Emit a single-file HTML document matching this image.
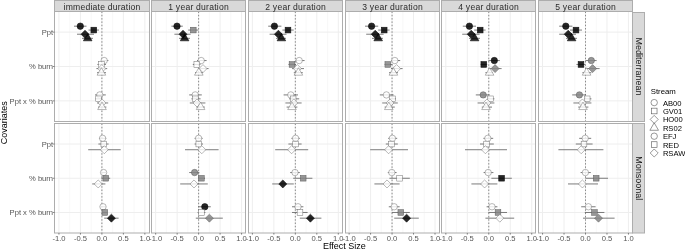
<!DOCTYPE html><html><head><meta charset="utf-8"><style>html,body{margin:0;padding:0;background:#fff;}svg{display:block;will-change:transform;}text{font-family:"Liberation Sans",sans-serif;}</style></head><body>
<svg width="685" height="250" viewBox="0 0 685 250">
<rect width="685" height="250" fill="#fff"/>
<g>
<rect x="54.50" y="0.5" width="95.00" height="11" fill="#d9d9d9" stroke="#adadad" stroke-width="1"/>
<line x1="69.69" y1="11.50" x2="69.69" y2="121.50" stroke="#f6f6f6" stroke-width="0.8"/>
<line x1="91.16" y1="11.50" x2="91.16" y2="121.50" stroke="#f6f6f6" stroke-width="0.8"/>
<line x1="112.64" y1="11.50" x2="112.64" y2="121.50" stroke="#f6f6f6" stroke-width="0.8"/>
<line x1="134.11" y1="11.50" x2="134.11" y2="121.50" stroke="#f6f6f6" stroke-width="0.8"/>
<line x1="58.95" y1="11.50" x2="58.95" y2="121.50" stroke="#eeeeee" stroke-width="1"/>
<line x1="80.43" y1="11.50" x2="80.43" y2="121.50" stroke="#eeeeee" stroke-width="1"/>
<line x1="101.90" y1="11.50" x2="101.90" y2="121.50" stroke="#eeeeee" stroke-width="1"/>
<line x1="123.38" y1="11.50" x2="123.38" y2="121.50" stroke="#eeeeee" stroke-width="1"/>
<line x1="144.85" y1="11.50" x2="144.85" y2="121.50" stroke="#eeeeee" stroke-width="1"/>
<line x1="54.50" y1="32.12" x2="149.50" y2="32.12" stroke="#eeeeee" stroke-width="1"/>
<line x1="54.50" y1="66.50" x2="149.50" y2="66.50" stroke="#eeeeee" stroke-width="1"/>
<line x1="54.50" y1="100.88" x2="149.50" y2="100.88" stroke="#eeeeee" stroke-width="1"/>
<line x1="101.90" y1="11.50" x2="101.90" y2="121.50" stroke="#8a8a8a" stroke-width="1" stroke-dasharray="1.5 1.8"/>
<line x1="74.00" y1="26.18" x2="86.50" y2="26.18" stroke="#5a5a5a" stroke-width="0.8"/>
<line x1="88.50" y1="30.07" x2="99.00" y2="30.07" stroke="#5a5a5a" stroke-width="0.8"/>
<line x1="77.00" y1="34.23" x2="94.00" y2="34.23" stroke="#5a5a5a" stroke-width="0.8"/>
<line x1="82.00" y1="38.33" x2="93.00" y2="38.33" stroke="#5a5a5a" stroke-width="0.8"/>
<line x1="101.20" y1="60.55" x2="108.40" y2="60.55" stroke="#5a5a5a" stroke-width="0.8"/>
<line x1="97.40" y1="64.45" x2="106.00" y2="64.45" stroke="#5a5a5a" stroke-width="0.8"/>
<line x1="96.40" y1="68.60" x2="107.20" y2="68.60" stroke="#5a5a5a" stroke-width="0.8"/>
<line x1="97.00" y1="72.70" x2="106.00" y2="72.70" stroke="#5a5a5a" stroke-width="0.8"/>
<line x1="95.00" y1="94.92" x2="105.80" y2="94.92" stroke="#5a5a5a" stroke-width="0.8"/>
<line x1="95.60" y1="98.83" x2="102.00" y2="98.83" stroke="#5a5a5a" stroke-width="0.8"/>
<line x1="97.00" y1="102.97" x2="108.20" y2="102.97" stroke="#5a5a5a" stroke-width="0.8"/>
<line x1="98.00" y1="107.08" x2="106.40" y2="107.08" stroke="#5a5a5a" stroke-width="0.8"/>
<circle cx="80.30" cy="26.18" r="3.20" fill="#000000" fill-opacity="0.85" stroke="#111" stroke-width="0.6"/>
<rect x="90.96" y="27.24" width="5.67" height="5.67" fill="#000000" fill-opacity="0.85" stroke="#111" stroke-width="0.6"/>
<path d="M85.00 30.21L89.01 34.23L85.00 38.24L80.99 34.23Z" fill="#000000" fill-opacity="0.85" stroke="#111" stroke-width="0.6"/>
<path d="M87.70 33.35L92.01 40.81L83.39 40.81Z" fill="#000000" fill-opacity="0.85" stroke="#111" stroke-width="0.6"/>
<circle cx="104.20" cy="60.55" r="3.20" fill="#ffffff" fill-opacity="0.8" stroke="#707070" stroke-width="0.5"/>
<rect x="98.56" y="61.61" width="5.67" height="5.67" fill="#ffffff" fill-opacity="0.8" stroke="#707070" stroke-width="0.5"/>
<path d="M101.80 64.59L105.81 68.60L101.80 72.61L97.79 68.60Z" fill="#ffffff" fill-opacity="0.8" stroke="#707070" stroke-width="0.5"/>
<path d="M101.40 67.72L105.71 75.19L97.09 75.19Z" fill="#ffffff" fill-opacity="0.8" stroke="#707070" stroke-width="0.5"/>
<circle cx="99.80" cy="94.92" r="3.20" fill="#ffffff" fill-opacity="0.8" stroke="#707070" stroke-width="0.5"/>
<rect x="95.76" y="95.99" width="5.67" height="5.67" fill="#ffffff" fill-opacity="0.8" stroke="#707070" stroke-width="0.5"/>
<path d="M102.00 98.96L106.01 102.97L102.00 106.99L97.99 102.97Z" fill="#ffffff" fill-opacity="0.8" stroke="#707070" stroke-width="0.5"/>
<path d="M102.00 102.10L106.31 109.56L97.69 109.56Z" fill="#ffffff" fill-opacity="0.8" stroke="#707070" stroke-width="0.5"/>
<rect x="54.50" y="11.50" width="95.00" height="110.00" fill="none" stroke="#adadad" stroke-width="1"/>
<line x1="69.69" y1="123.50" x2="69.69" y2="233.00" stroke="#f6f6f6" stroke-width="0.8"/>
<line x1="91.16" y1="123.50" x2="91.16" y2="233.00" stroke="#f6f6f6" stroke-width="0.8"/>
<line x1="112.64" y1="123.50" x2="112.64" y2="233.00" stroke="#f6f6f6" stroke-width="0.8"/>
<line x1="134.11" y1="123.50" x2="134.11" y2="233.00" stroke="#f6f6f6" stroke-width="0.8"/>
<line x1="58.95" y1="123.50" x2="58.95" y2="233.00" stroke="#eeeeee" stroke-width="1"/>
<line x1="80.43" y1="123.50" x2="80.43" y2="233.00" stroke="#eeeeee" stroke-width="1"/>
<line x1="101.90" y1="123.50" x2="101.90" y2="233.00" stroke="#eeeeee" stroke-width="1"/>
<line x1="123.38" y1="123.50" x2="123.38" y2="233.00" stroke="#eeeeee" stroke-width="1"/>
<line x1="144.85" y1="123.50" x2="144.85" y2="233.00" stroke="#eeeeee" stroke-width="1"/>
<line x1="54.50" y1="144.03" x2="149.50" y2="144.03" stroke="#eeeeee" stroke-width="1"/>
<line x1="54.50" y1="178.25" x2="149.50" y2="178.25" stroke="#eeeeee" stroke-width="1"/>
<line x1="54.50" y1="212.47" x2="149.50" y2="212.47" stroke="#eeeeee" stroke-width="1"/>
<line x1="101.90" y1="123.50" x2="101.90" y2="233.00" stroke="#8a8a8a" stroke-width="1" stroke-dasharray="1.5 1.8"/>
<line x1="99.00" y1="138.33" x2="106.20" y2="138.33" stroke="#5a5a5a" stroke-width="0.8"/>
<line x1="98.40" y1="144.03" x2="108.60" y2="144.03" stroke="#5a5a5a" stroke-width="0.8"/>
<line x1="88.20" y1="149.73" x2="120.70" y2="149.73" stroke="#5a5a5a" stroke-width="0.8"/>
<line x1="101.00" y1="172.55" x2="106.00" y2="172.55" stroke="#5a5a5a" stroke-width="0.8"/>
<line x1="101.20" y1="178.25" x2="110.20" y2="178.25" stroke="#5a5a5a" stroke-width="0.8"/>
<line x1="92.20" y1="183.95" x2="105.40" y2="183.95" stroke="#5a5a5a" stroke-width="0.8"/>
<line x1="100.60" y1="206.77" x2="106.00" y2="206.77" stroke="#5a5a5a" stroke-width="0.8"/>
<line x1="102.40" y1="212.47" x2="107.20" y2="212.47" stroke="#5a5a5a" stroke-width="0.8"/>
<line x1="104.20" y1="218.17" x2="118.60" y2="218.17" stroke="#5a5a5a" stroke-width="0.8"/>
<circle cx="102.60" cy="138.33" r="3.20" fill="#ffffff" fill-opacity="0.8" stroke="#707070" stroke-width="0.5"/>
<rect x="100.96" y="141.20" width="5.67" height="5.67" fill="#ffffff" fill-opacity="0.8" stroke="#707070" stroke-width="0.5"/>
<path d="M104.30 145.72L108.31 149.73L104.30 153.74L100.29 149.73Z" fill="#ffffff" fill-opacity="0.8" stroke="#707070" stroke-width="0.5"/>
<circle cx="103.60" cy="172.55" r="3.20" fill="#ffffff" fill-opacity="0.8" stroke="#707070" stroke-width="0.5"/>
<rect x="102.96" y="175.41" width="5.67" height="5.67" fill="#858585" fill-opacity="0.85" stroke="#5a5a5a" stroke-width="0.5"/>
<path d="M98.20 179.94L102.21 183.95L98.20 187.96L94.19 183.95Z" fill="#ffffff" fill-opacity="0.8" stroke="#707070" stroke-width="0.5"/>
<circle cx="103.00" cy="206.77" r="3.20" fill="#ffffff" fill-opacity="0.8" stroke="#707070" stroke-width="0.5"/>
<rect x="101.96" y="209.63" width="5.67" height="5.67" fill="#858585" fill-opacity="0.85" stroke="#5a5a5a" stroke-width="0.5"/>
<path d="M111.40 214.16L115.41 218.17L111.40 222.18L107.39 218.17Z" fill="#000000" fill-opacity="0.85" stroke="#111" stroke-width="0.6"/>
<rect x="54.50" y="123.50" width="95.00" height="109.50" fill="none" stroke="#adadad" stroke-width="1"/>
<text x="102.10" y="9.6" font-size="8.6" letter-spacing="0.22" fill="#2a2a2a" text-anchor="middle">immediate duration</text>
<line x1="58.95" y1="233.00" x2="58.95" y2="234.60" stroke="#555" stroke-width="0.7"/>
<text x="58.95" y="240.6" font-size="7.6" fill="#555" text-anchor="middle">-1.0</text>
<line x1="80.43" y1="233.00" x2="80.43" y2="234.60" stroke="#555" stroke-width="0.7"/>
<text x="80.43" y="240.6" font-size="7.6" fill="#555" text-anchor="middle">-0.5</text>
<line x1="101.90" y1="233.00" x2="101.90" y2="234.60" stroke="#555" stroke-width="0.7"/>
<text x="101.90" y="240.6" font-size="7.6" fill="#555" text-anchor="middle">0.0</text>
<line x1="123.38" y1="233.00" x2="123.38" y2="234.60" stroke="#555" stroke-width="0.7"/>
<text x="123.38" y="240.6" font-size="7.6" fill="#555" text-anchor="middle">0.5</text>
<line x1="144.85" y1="233.00" x2="144.85" y2="234.60" stroke="#555" stroke-width="0.7"/>
<text x="144.85" y="240.6" font-size="7.6" fill="#555" text-anchor="middle">1.0</text>
<rect x="151.50" y="0.5" width="94.00" height="11" fill="#d9d9d9" stroke="#adadad" stroke-width="1"/>
<line x1="166.41" y1="11.50" x2="166.41" y2="121.50" stroke="#f6f6f6" stroke-width="0.8"/>
<line x1="187.88" y1="11.50" x2="187.88" y2="121.50" stroke="#f6f6f6" stroke-width="0.8"/>
<line x1="209.36" y1="11.50" x2="209.36" y2="121.50" stroke="#f6f6f6" stroke-width="0.8"/>
<line x1="230.83" y1="11.50" x2="230.83" y2="121.50" stroke="#f6f6f6" stroke-width="0.8"/>
<line x1="155.67" y1="11.50" x2="155.67" y2="121.50" stroke="#eeeeee" stroke-width="1"/>
<line x1="177.15" y1="11.50" x2="177.15" y2="121.50" stroke="#eeeeee" stroke-width="1"/>
<line x1="198.62" y1="11.50" x2="198.62" y2="121.50" stroke="#eeeeee" stroke-width="1"/>
<line x1="220.09" y1="11.50" x2="220.09" y2="121.50" stroke="#eeeeee" stroke-width="1"/>
<line x1="241.57" y1="11.50" x2="241.57" y2="121.50" stroke="#eeeeee" stroke-width="1"/>
<line x1="151.50" y1="32.12" x2="245.50" y2="32.12" stroke="#eeeeee" stroke-width="1"/>
<line x1="151.50" y1="66.50" x2="245.50" y2="66.50" stroke="#eeeeee" stroke-width="1"/>
<line x1="151.50" y1="100.88" x2="245.50" y2="100.88" stroke="#eeeeee" stroke-width="1"/>
<line x1="198.62" y1="11.50" x2="198.62" y2="121.50" stroke="#8a8a8a" stroke-width="1" stroke-dasharray="1.5 1.8"/>
<line x1="171.40" y1="26.18" x2="182.80" y2="26.18" stroke="#5a5a5a" stroke-width="0.8"/>
<line x1="188.20" y1="30.07" x2="198.40" y2="30.07" stroke="#5a5a5a" stroke-width="0.8"/>
<line x1="174.40" y1="34.23" x2="190.60" y2="34.23" stroke="#5a5a5a" stroke-width="0.8"/>
<line x1="179.00" y1="38.33" x2="190.00" y2="38.33" stroke="#5a5a5a" stroke-width="0.8"/>
<line x1="197.00" y1="60.55" x2="206.60" y2="60.55" stroke="#5a5a5a" stroke-width="0.8"/>
<line x1="192.80" y1="64.45" x2="200.50" y2="64.45" stroke="#5a5a5a" stroke-width="0.8"/>
<line x1="198.00" y1="68.60" x2="208.60" y2="68.60" stroke="#5a5a5a" stroke-width="0.8"/>
<line x1="195.00" y1="72.70" x2="203.00" y2="72.70" stroke="#5a5a5a" stroke-width="0.8"/>
<line x1="189.20" y1="94.92" x2="201.80" y2="94.92" stroke="#5a5a5a" stroke-width="0.8"/>
<line x1="191.40" y1="98.83" x2="200.60" y2="98.83" stroke="#5a5a5a" stroke-width="0.8"/>
<line x1="189.80" y1="102.97" x2="205.40" y2="102.97" stroke="#5a5a5a" stroke-width="0.8"/>
<line x1="196.40" y1="107.08" x2="204.80" y2="107.08" stroke="#5a5a5a" stroke-width="0.8"/>
<circle cx="177.00" cy="26.18" r="3.20" fill="#000000" fill-opacity="0.85" stroke="#111" stroke-width="0.6"/>
<rect x="190.46" y="27.24" width="5.67" height="5.67" fill="#858585" fill-opacity="0.85" stroke="#5a5a5a" stroke-width="0.5"/>
<path d="M183.00 30.21L187.01 34.23L183.00 38.24L178.99 34.23Z" fill="#000000" fill-opacity="0.85" stroke="#111" stroke-width="0.6"/>
<path d="M184.60 33.35L188.91 40.81L180.29 40.81Z" fill="#000000" fill-opacity="0.85" stroke="#111" stroke-width="0.6"/>
<circle cx="201.20" cy="60.55" r="3.20" fill="#ffffff" fill-opacity="0.8" stroke="#707070" stroke-width="0.5"/>
<rect x="193.96" y="61.61" width="5.67" height="5.67" fill="#ffffff" fill-opacity="0.8" stroke="#707070" stroke-width="0.5"/>
<path d="M203.00 64.59L207.01 68.60L203.00 72.61L198.99 68.60Z" fill="#ffffff" fill-opacity="0.8" stroke="#707070" stroke-width="0.5"/>
<path d="M198.80 67.72L203.11 75.19L194.49 75.19Z" fill="#ffffff" fill-opacity="0.8" stroke="#707070" stroke-width="0.5"/>
<circle cx="195.20" cy="94.92" r="3.20" fill="#ffffff" fill-opacity="0.8" stroke="#707070" stroke-width="0.5"/>
<rect x="192.56" y="95.99" width="5.67" height="5.67" fill="#ffffff" fill-opacity="0.8" stroke="#707070" stroke-width="0.5"/>
<path d="M197.00 98.96L201.01 102.97L197.00 106.99L192.99 102.97Z" fill="#ffffff" fill-opacity="0.8" stroke="#707070" stroke-width="0.5"/>
<path d="M200.60 102.10L204.91 109.56L196.29 109.56Z" fill="#ffffff" fill-opacity="0.8" stroke="#707070" stroke-width="0.5"/>
<rect x="151.50" y="11.50" width="94.00" height="110.00" fill="none" stroke="#adadad" stroke-width="1"/>
<line x1="166.41" y1="123.50" x2="166.41" y2="233.00" stroke="#f6f6f6" stroke-width="0.8"/>
<line x1="187.88" y1="123.50" x2="187.88" y2="233.00" stroke="#f6f6f6" stroke-width="0.8"/>
<line x1="209.36" y1="123.50" x2="209.36" y2="233.00" stroke="#f6f6f6" stroke-width="0.8"/>
<line x1="230.83" y1="123.50" x2="230.83" y2="233.00" stroke="#f6f6f6" stroke-width="0.8"/>
<line x1="155.67" y1="123.50" x2="155.67" y2="233.00" stroke="#eeeeee" stroke-width="1"/>
<line x1="177.15" y1="123.50" x2="177.15" y2="233.00" stroke="#eeeeee" stroke-width="1"/>
<line x1="198.62" y1="123.50" x2="198.62" y2="233.00" stroke="#eeeeee" stroke-width="1"/>
<line x1="220.09" y1="123.50" x2="220.09" y2="233.00" stroke="#eeeeee" stroke-width="1"/>
<line x1="241.57" y1="123.50" x2="241.57" y2="233.00" stroke="#eeeeee" stroke-width="1"/>
<line x1="151.50" y1="144.03" x2="245.50" y2="144.03" stroke="#eeeeee" stroke-width="1"/>
<line x1="151.50" y1="178.25" x2="245.50" y2="178.25" stroke="#eeeeee" stroke-width="1"/>
<line x1="151.50" y1="212.47" x2="245.50" y2="212.47" stroke="#eeeeee" stroke-width="1"/>
<line x1="198.62" y1="123.50" x2="198.62" y2="233.00" stroke="#8a8a8a" stroke-width="1" stroke-dasharray="1.5 1.8"/>
<line x1="194.60" y1="138.33" x2="202.60" y2="138.33" stroke="#5a5a5a" stroke-width="0.8"/>
<line x1="194.60" y1="144.03" x2="203.00" y2="144.03" stroke="#5a5a5a" stroke-width="0.8"/>
<line x1="185.00" y1="149.73" x2="218.60" y2="149.73" stroke="#5a5a5a" stroke-width="0.8"/>
<line x1="189.20" y1="172.55" x2="199.40" y2="172.55" stroke="#5a5a5a" stroke-width="0.8"/>
<line x1="198.20" y1="178.25" x2="205.00" y2="178.25" stroke="#5a5a5a" stroke-width="0.8"/>
<line x1="180.20" y1="183.95" x2="207.80" y2="183.95" stroke="#5a5a5a" stroke-width="0.8"/>
<line x1="198.20" y1="206.77" x2="210.80" y2="206.77" stroke="#5a5a5a" stroke-width="0.8"/>
<line x1="197.60" y1="212.47" x2="205.40" y2="212.47" stroke="#5a5a5a" stroke-width="0.8"/>
<line x1="195.80" y1="218.17" x2="222.80" y2="218.17" stroke="#5a5a5a" stroke-width="0.8"/>
<circle cx="198.60" cy="138.33" r="3.20" fill="#ffffff" fill-opacity="0.8" stroke="#707070" stroke-width="0.5"/>
<rect x="195.96" y="141.20" width="5.67" height="5.67" fill="#ffffff" fill-opacity="0.8" stroke="#707070" stroke-width="0.5"/>
<path d="M201.80 145.72L205.81 149.73L201.80 153.74L197.79 149.73Z" fill="#ffffff" fill-opacity="0.8" stroke="#707070" stroke-width="0.5"/>
<circle cx="194.60" cy="172.55" r="3.20" fill="#858585" fill-opacity="0.85" stroke="#5a5a5a" stroke-width="0.5"/>
<rect x="198.56" y="175.41" width="5.67" height="5.67" fill="#858585" fill-opacity="0.85" stroke="#5a5a5a" stroke-width="0.5"/>
<path d="M194.00 179.94L198.01 183.95L194.00 187.96L189.99 183.95Z" fill="#ffffff" fill-opacity="0.8" stroke="#707070" stroke-width="0.5"/>
<circle cx="204.80" cy="206.77" r="3.20" fill="#000000" fill-opacity="0.85" stroke="#111" stroke-width="0.6"/>
<rect x="198.56" y="209.63" width="5.67" height="5.67" fill="#ffffff" fill-opacity="0.8" stroke="#707070" stroke-width="0.5"/>
<path d="M209.40 214.16L213.41 218.17L209.40 222.18L205.39 218.17Z" fill="#858585" fill-opacity="0.85" stroke="#5a5a5a" stroke-width="0.5"/>
<rect x="151.50" y="123.50" width="94.00" height="109.50" fill="none" stroke="#adadad" stroke-width="1"/>
<text x="198.60" y="9.6" font-size="8.6" letter-spacing="0.22" fill="#2a2a2a" text-anchor="middle">1 year duration</text>
<line x1="155.67" y1="233.00" x2="155.67" y2="234.60" stroke="#555" stroke-width="0.7"/>
<text x="155.67" y="240.6" font-size="7.6" fill="#555" text-anchor="middle">-1.0</text>
<line x1="177.15" y1="233.00" x2="177.15" y2="234.60" stroke="#555" stroke-width="0.7"/>
<text x="177.15" y="240.6" font-size="7.6" fill="#555" text-anchor="middle">-0.5</text>
<line x1="198.62" y1="233.00" x2="198.62" y2="234.60" stroke="#555" stroke-width="0.7"/>
<text x="198.62" y="240.6" font-size="7.6" fill="#555" text-anchor="middle">0.0</text>
<line x1="220.09" y1="233.00" x2="220.09" y2="234.60" stroke="#555" stroke-width="0.7"/>
<text x="220.09" y="240.6" font-size="7.6" fill="#555" text-anchor="middle">0.5</text>
<line x1="241.57" y1="233.00" x2="241.57" y2="234.60" stroke="#555" stroke-width="0.7"/>
<text x="241.57" y="240.6" font-size="7.6" fill="#555" text-anchor="middle">1.0</text>
<rect x="248.50" y="0.5" width="94.00" height="11" fill="#d9d9d9" stroke="#adadad" stroke-width="1"/>
<line x1="263.13" y1="11.50" x2="263.13" y2="121.50" stroke="#f6f6f6" stroke-width="0.8"/>
<line x1="284.60" y1="11.50" x2="284.60" y2="121.50" stroke="#f6f6f6" stroke-width="0.8"/>
<line x1="306.08" y1="11.50" x2="306.08" y2="121.50" stroke="#f6f6f6" stroke-width="0.8"/>
<line x1="327.55" y1="11.50" x2="327.55" y2="121.50" stroke="#f6f6f6" stroke-width="0.8"/>
<line x1="252.39" y1="11.50" x2="252.39" y2="121.50" stroke="#eeeeee" stroke-width="1"/>
<line x1="273.87" y1="11.50" x2="273.87" y2="121.50" stroke="#eeeeee" stroke-width="1"/>
<line x1="295.34" y1="11.50" x2="295.34" y2="121.50" stroke="#eeeeee" stroke-width="1"/>
<line x1="316.82" y1="11.50" x2="316.82" y2="121.50" stroke="#eeeeee" stroke-width="1"/>
<line x1="338.29" y1="11.50" x2="338.29" y2="121.50" stroke="#eeeeee" stroke-width="1"/>
<line x1="248.50" y1="32.12" x2="342.50" y2="32.12" stroke="#eeeeee" stroke-width="1"/>
<line x1="248.50" y1="66.50" x2="342.50" y2="66.50" stroke="#eeeeee" stroke-width="1"/>
<line x1="248.50" y1="100.88" x2="342.50" y2="100.88" stroke="#eeeeee" stroke-width="1"/>
<line x1="295.34" y1="11.50" x2="295.34" y2="121.50" stroke="#8a8a8a" stroke-width="1" stroke-dasharray="1.5 1.8"/>
<line x1="268.20" y1="26.18" x2="281.40" y2="26.18" stroke="#5a5a5a" stroke-width="0.8"/>
<line x1="282.40" y1="30.07" x2="293.70" y2="30.07" stroke="#5a5a5a" stroke-width="0.8"/>
<line x1="269.60" y1="34.23" x2="286.50" y2="34.23" stroke="#5a5a5a" stroke-width="0.8"/>
<line x1="276.00" y1="38.33" x2="286.00" y2="38.33" stroke="#5a5a5a" stroke-width="0.8"/>
<line x1="295.60" y1="60.55" x2="304.60" y2="60.55" stroke="#5a5a5a" stroke-width="0.8"/>
<line x1="288.40" y1="64.45" x2="296.00" y2="64.45" stroke="#5a5a5a" stroke-width="0.8"/>
<line x1="292.00" y1="68.60" x2="304.00" y2="68.60" stroke="#5a5a5a" stroke-width="0.8"/>
<line x1="293.80" y1="72.70" x2="302.80" y2="72.70" stroke="#5a5a5a" stroke-width="0.8"/>
<line x1="283.60" y1="94.92" x2="298.00" y2="94.92" stroke="#5a5a5a" stroke-width="0.8"/>
<line x1="289.00" y1="98.83" x2="299.20" y2="98.83" stroke="#5a5a5a" stroke-width="0.8"/>
<line x1="285.40" y1="102.97" x2="301.60" y2="102.97" stroke="#5a5a5a" stroke-width="0.8"/>
<line x1="286.60" y1="107.08" x2="297.40" y2="107.08" stroke="#5a5a5a" stroke-width="0.8"/>
<circle cx="274.40" cy="26.18" r="3.20" fill="#000000" fill-opacity="0.85" stroke="#111" stroke-width="0.6"/>
<rect x="285.16" y="27.24" width="5.67" height="5.67" fill="#000000" fill-opacity="0.85" stroke="#111" stroke-width="0.6"/>
<path d="M278.40 30.21L282.41 34.23L278.40 38.24L274.39 34.23Z" fill="#000000" fill-opacity="0.85" stroke="#111" stroke-width="0.6"/>
<path d="M281.40 33.35L285.71 40.81L277.09 40.81Z" fill="#000000" fill-opacity="0.85" stroke="#111" stroke-width="0.6"/>
<circle cx="299.20" cy="60.55" r="3.20" fill="#ffffff" fill-opacity="0.8" stroke="#707070" stroke-width="0.5"/>
<rect x="289.16" y="61.61" width="5.67" height="5.67" fill="#858585" fill-opacity="0.85" stroke="#5a5a5a" stroke-width="0.5"/>
<path d="M297.40 64.59L301.41 68.60L297.40 72.61L293.39 68.60Z" fill="#ffffff" fill-opacity="0.8" stroke="#707070" stroke-width="0.5"/>
<path d="M298.40 67.72L302.71 75.19L294.09 75.19Z" fill="#ffffff" fill-opacity="0.8" stroke="#707070" stroke-width="0.5"/>
<circle cx="290.80" cy="94.92" r="3.20" fill="#ffffff" fill-opacity="0.8" stroke="#707070" stroke-width="0.5"/>
<rect x="290.36" y="95.99" width="5.67" height="5.67" fill="#ffffff" fill-opacity="0.8" stroke="#707070" stroke-width="0.5"/>
<path d="M293.80 98.96L297.81 102.97L293.80 106.99L289.79 102.97Z" fill="#ffffff" fill-opacity="0.8" stroke="#707070" stroke-width="0.5"/>
<path d="M292.00 102.10L296.31 109.56L287.69 109.56Z" fill="#ffffff" fill-opacity="0.8" stroke="#707070" stroke-width="0.5"/>
<rect x="248.50" y="11.50" width="94.00" height="110.00" fill="none" stroke="#adadad" stroke-width="1"/>
<line x1="263.13" y1="123.50" x2="263.13" y2="233.00" stroke="#f6f6f6" stroke-width="0.8"/>
<line x1="284.60" y1="123.50" x2="284.60" y2="233.00" stroke="#f6f6f6" stroke-width="0.8"/>
<line x1="306.08" y1="123.50" x2="306.08" y2="233.00" stroke="#f6f6f6" stroke-width="0.8"/>
<line x1="327.55" y1="123.50" x2="327.55" y2="233.00" stroke="#f6f6f6" stroke-width="0.8"/>
<line x1="252.39" y1="123.50" x2="252.39" y2="233.00" stroke="#eeeeee" stroke-width="1"/>
<line x1="273.87" y1="123.50" x2="273.87" y2="233.00" stroke="#eeeeee" stroke-width="1"/>
<line x1="295.34" y1="123.50" x2="295.34" y2="233.00" stroke="#eeeeee" stroke-width="1"/>
<line x1="316.82" y1="123.50" x2="316.82" y2="233.00" stroke="#eeeeee" stroke-width="1"/>
<line x1="338.29" y1="123.50" x2="338.29" y2="233.00" stroke="#eeeeee" stroke-width="1"/>
<line x1="248.50" y1="144.03" x2="342.50" y2="144.03" stroke="#eeeeee" stroke-width="1"/>
<line x1="248.50" y1="178.25" x2="342.50" y2="178.25" stroke="#eeeeee" stroke-width="1"/>
<line x1="248.50" y1="212.47" x2="342.50" y2="212.47" stroke="#eeeeee" stroke-width="1"/>
<line x1="295.34" y1="123.50" x2="295.34" y2="233.00" stroke="#8a8a8a" stroke-width="1" stroke-dasharray="1.5 1.8"/>
<line x1="291.40" y1="138.33" x2="299.80" y2="138.33" stroke="#5a5a5a" stroke-width="0.8"/>
<line x1="288.40" y1="144.03" x2="301.60" y2="144.03" stroke="#5a5a5a" stroke-width="0.8"/>
<line x1="275.20" y1="149.73" x2="308.20" y2="149.73" stroke="#5a5a5a" stroke-width="0.8"/>
<line x1="290.20" y1="172.55" x2="299.80" y2="172.55" stroke="#5a5a5a" stroke-width="0.8"/>
<line x1="293.20" y1="178.25" x2="312.40" y2="178.25" stroke="#5a5a5a" stroke-width="0.8"/>
<line x1="272.20" y1="183.95" x2="293.80" y2="183.95" stroke="#5a5a5a" stroke-width="0.8"/>
<line x1="292.00" y1="206.77" x2="303.40" y2="206.77" stroke="#5a5a5a" stroke-width="0.8"/>
<line x1="292.00" y1="212.47" x2="307.60" y2="212.47" stroke="#5a5a5a" stroke-width="0.8"/>
<line x1="299.80" y1="218.17" x2="321.40" y2="218.17" stroke="#5a5a5a" stroke-width="0.8"/>
<circle cx="295.60" cy="138.33" r="3.20" fill="#ffffff" fill-opacity="0.8" stroke="#707070" stroke-width="0.5"/>
<rect x="292.76" y="141.20" width="5.67" height="5.67" fill="#ffffff" fill-opacity="0.8" stroke="#707070" stroke-width="0.5"/>
<path d="M291.60 145.72L295.61 149.73L291.60 153.74L287.59 149.73Z" fill="#ffffff" fill-opacity="0.8" stroke="#707070" stroke-width="0.5"/>
<circle cx="295.00" cy="172.55" r="3.20" fill="#ffffff" fill-opacity="0.8" stroke="#707070" stroke-width="0.5"/>
<rect x="300.36" y="175.41" width="5.67" height="5.67" fill="#858585" fill-opacity="0.85" stroke="#5a5a5a" stroke-width="0.5"/>
<path d="M282.80 179.94L286.81 183.95L282.80 187.96L278.79 183.95Z" fill="#000000" fill-opacity="0.85" stroke="#111" stroke-width="0.6"/>
<circle cx="298.00" cy="206.77" r="3.20" fill="#ffffff" fill-opacity="0.8" stroke="#707070" stroke-width="0.5"/>
<rect x="297.16" y="209.63" width="5.67" height="5.67" fill="#ffffff" fill-opacity="0.8" stroke="#707070" stroke-width="0.5"/>
<path d="M310.40 214.16L314.41 218.17L310.40 222.18L306.39 218.17Z" fill="#000000" fill-opacity="0.85" stroke="#111" stroke-width="0.6"/>
<rect x="248.50" y="123.50" width="94.00" height="109.50" fill="none" stroke="#adadad" stroke-width="1"/>
<text x="295.60" y="9.6" font-size="8.6" letter-spacing="0.22" fill="#2a2a2a" text-anchor="middle">2 year duration</text>
<line x1="252.39" y1="233.00" x2="252.39" y2="234.60" stroke="#555" stroke-width="0.7"/>
<text x="252.39" y="240.6" font-size="7.6" fill="#555" text-anchor="middle">-1.0</text>
<line x1="273.87" y1="233.00" x2="273.87" y2="234.60" stroke="#555" stroke-width="0.7"/>
<text x="273.87" y="240.6" font-size="7.6" fill="#555" text-anchor="middle">-0.5</text>
<line x1="295.34" y1="233.00" x2="295.34" y2="234.60" stroke="#555" stroke-width="0.7"/>
<text x="295.34" y="240.6" font-size="7.6" fill="#555" text-anchor="middle">0.0</text>
<line x1="316.82" y1="233.00" x2="316.82" y2="234.60" stroke="#555" stroke-width="0.7"/>
<text x="316.82" y="240.6" font-size="7.6" fill="#555" text-anchor="middle">0.5</text>
<line x1="338.29" y1="233.00" x2="338.29" y2="234.60" stroke="#555" stroke-width="0.7"/>
<text x="338.29" y="240.6" font-size="7.6" fill="#555" text-anchor="middle">1.0</text>
<rect x="345.50" y="0.5" width="94.00" height="11" fill="#d9d9d9" stroke="#adadad" stroke-width="1"/>
<line x1="359.85" y1="11.50" x2="359.85" y2="121.50" stroke="#f6f6f6" stroke-width="0.8"/>
<line x1="381.32" y1="11.50" x2="381.32" y2="121.50" stroke="#f6f6f6" stroke-width="0.8"/>
<line x1="402.80" y1="11.50" x2="402.80" y2="121.50" stroke="#f6f6f6" stroke-width="0.8"/>
<line x1="424.27" y1="11.50" x2="424.27" y2="121.50" stroke="#f6f6f6" stroke-width="0.8"/>
<line x1="349.11" y1="11.50" x2="349.11" y2="121.50" stroke="#eeeeee" stroke-width="1"/>
<line x1="370.58" y1="11.50" x2="370.58" y2="121.50" stroke="#eeeeee" stroke-width="1"/>
<line x1="392.06" y1="11.50" x2="392.06" y2="121.50" stroke="#eeeeee" stroke-width="1"/>
<line x1="413.53" y1="11.50" x2="413.53" y2="121.50" stroke="#eeeeee" stroke-width="1"/>
<line x1="435.01" y1="11.50" x2="435.01" y2="121.50" stroke="#eeeeee" stroke-width="1"/>
<line x1="345.50" y1="32.12" x2="439.50" y2="32.12" stroke="#eeeeee" stroke-width="1"/>
<line x1="345.50" y1="66.50" x2="439.50" y2="66.50" stroke="#eeeeee" stroke-width="1"/>
<line x1="345.50" y1="100.88" x2="439.50" y2="100.88" stroke="#eeeeee" stroke-width="1"/>
<line x1="392.06" y1="11.50" x2="392.06" y2="121.50" stroke="#8a8a8a" stroke-width="1" stroke-dasharray="1.5 1.8"/>
<line x1="365.00" y1="26.18" x2="378.20" y2="26.18" stroke="#5a5a5a" stroke-width="0.8"/>
<line x1="378.20" y1="30.07" x2="389.60" y2="30.07" stroke="#5a5a5a" stroke-width="0.8"/>
<line x1="366.20" y1="34.23" x2="383.60" y2="34.23" stroke="#5a5a5a" stroke-width="0.8"/>
<line x1="372.00" y1="38.33" x2="383.00" y2="38.33" stroke="#5a5a5a" stroke-width="0.8"/>
<line x1="391.20" y1="60.55" x2="400.20" y2="60.55" stroke="#5a5a5a" stroke-width="0.8"/>
<line x1="384.60" y1="64.45" x2="392.40" y2="64.45" stroke="#5a5a5a" stroke-width="0.8"/>
<line x1="391.00" y1="68.60" x2="402.60" y2="68.60" stroke="#5a5a5a" stroke-width="0.8"/>
<line x1="389.00" y1="72.70" x2="398.00" y2="72.70" stroke="#5a5a5a" stroke-width="0.8"/>
<line x1="379.80" y1="94.92" x2="393.60" y2="94.92" stroke="#5a5a5a" stroke-width="0.8"/>
<line x1="389.40" y1="98.83" x2="396.00" y2="98.83" stroke="#5a5a5a" stroke-width="0.8"/>
<line x1="382.20" y1="102.97" x2="397.80" y2="102.97" stroke="#5a5a5a" stroke-width="0.8"/>
<line x1="384.60" y1="107.08" x2="394.80" y2="107.08" stroke="#5a5a5a" stroke-width="0.8"/>
<circle cx="371.60" cy="26.18" r="3.20" fill="#000000" fill-opacity="0.85" stroke="#111" stroke-width="0.6"/>
<rect x="381.36" y="27.24" width="5.67" height="5.67" fill="#000000" fill-opacity="0.85" stroke="#111" stroke-width="0.6"/>
<path d="M375.20 30.21L379.21 34.23L375.20 38.24L371.19 34.23Z" fill="#000000" fill-opacity="0.85" stroke="#111" stroke-width="0.6"/>
<path d="M378.20 33.35L382.51 40.81L373.89 40.81Z" fill="#000000" fill-opacity="0.85" stroke="#111" stroke-width="0.6"/>
<circle cx="394.80" cy="60.55" r="3.20" fill="#ffffff" fill-opacity="0.8" stroke="#707070" stroke-width="0.5"/>
<rect x="384.96" y="61.61" width="5.67" height="5.67" fill="#858585" fill-opacity="0.85" stroke="#5a5a5a" stroke-width="0.5"/>
<path d="M396.60 64.59L400.61 68.60L396.60 72.61L392.59 68.60Z" fill="#ffffff" fill-opacity="0.8" stroke="#707070" stroke-width="0.5"/>
<path d="M393.40 67.72L397.71 75.19L389.09 75.19Z" fill="#ffffff" fill-opacity="0.8" stroke="#707070" stroke-width="0.5"/>
<circle cx="386.40" cy="94.92" r="3.20" fill="#ffffff" fill-opacity="0.8" stroke="#707070" stroke-width="0.5"/>
<rect x="389.56" y="95.99" width="5.67" height="5.67" fill="#ffffff" fill-opacity="0.8" stroke="#707070" stroke-width="0.5"/>
<path d="M390.00 98.96L394.01 102.97L390.00 106.99L385.99 102.97Z" fill="#ffffff" fill-opacity="0.8" stroke="#707070" stroke-width="0.5"/>
<path d="M388.80 102.10L393.11 109.56L384.49 109.56Z" fill="#ffffff" fill-opacity="0.8" stroke="#707070" stroke-width="0.5"/>
<rect x="345.50" y="11.50" width="94.00" height="110.00" fill="none" stroke="#adadad" stroke-width="1"/>
<line x1="359.85" y1="123.50" x2="359.85" y2="233.00" stroke="#f6f6f6" stroke-width="0.8"/>
<line x1="381.32" y1="123.50" x2="381.32" y2="233.00" stroke="#f6f6f6" stroke-width="0.8"/>
<line x1="402.80" y1="123.50" x2="402.80" y2="233.00" stroke="#f6f6f6" stroke-width="0.8"/>
<line x1="424.27" y1="123.50" x2="424.27" y2="233.00" stroke="#f6f6f6" stroke-width="0.8"/>
<line x1="349.11" y1="123.50" x2="349.11" y2="233.00" stroke="#eeeeee" stroke-width="1"/>
<line x1="370.58" y1="123.50" x2="370.58" y2="233.00" stroke="#eeeeee" stroke-width="1"/>
<line x1="392.06" y1="123.50" x2="392.06" y2="233.00" stroke="#eeeeee" stroke-width="1"/>
<line x1="413.53" y1="123.50" x2="413.53" y2="233.00" stroke="#eeeeee" stroke-width="1"/>
<line x1="435.01" y1="123.50" x2="435.01" y2="233.00" stroke="#eeeeee" stroke-width="1"/>
<line x1="345.50" y1="144.03" x2="439.50" y2="144.03" stroke="#eeeeee" stroke-width="1"/>
<line x1="345.50" y1="178.25" x2="439.50" y2="178.25" stroke="#eeeeee" stroke-width="1"/>
<line x1="345.50" y1="212.47" x2="439.50" y2="212.47" stroke="#eeeeee" stroke-width="1"/>
<line x1="392.06" y1="123.50" x2="392.06" y2="233.00" stroke="#8a8a8a" stroke-width="1" stroke-dasharray="1.5 1.8"/>
<line x1="388.20" y1="138.33" x2="397.20" y2="138.33" stroke="#5a5a5a" stroke-width="0.8"/>
<line x1="385.80" y1="144.03" x2="397.80" y2="144.03" stroke="#5a5a5a" stroke-width="0.8"/>
<line x1="370.20" y1="149.73" x2="408.00" y2="149.73" stroke="#5a5a5a" stroke-width="0.8"/>
<line x1="387.80" y1="172.55" x2="396.60" y2="172.55" stroke="#5a5a5a" stroke-width="0.8"/>
<line x1="389.40" y1="178.25" x2="409.80" y2="178.25" stroke="#5a5a5a" stroke-width="0.8"/>
<line x1="374.40" y1="183.95" x2="399.60" y2="183.95" stroke="#5a5a5a" stroke-width="0.8"/>
<line x1="388.80" y1="206.77" x2="399.60" y2="206.77" stroke="#5a5a5a" stroke-width="0.8"/>
<line x1="391.80" y1="212.47" x2="409.80" y2="212.47" stroke="#5a5a5a" stroke-width="0.8"/>
<line x1="394.20" y1="218.17" x2="418.80" y2="218.17" stroke="#5a5a5a" stroke-width="0.8"/>
<circle cx="392.40" cy="138.33" r="3.20" fill="#ffffff" fill-opacity="0.8" stroke="#707070" stroke-width="0.5"/>
<rect x="388.56" y="141.20" width="5.67" height="5.67" fill="#ffffff" fill-opacity="0.8" stroke="#707070" stroke-width="0.5"/>
<path d="M388.60 145.72L392.61 149.73L388.60 153.74L384.59 149.73Z" fill="#ffffff" fill-opacity="0.8" stroke="#707070" stroke-width="0.5"/>
<circle cx="391.80" cy="172.55" r="3.20" fill="#ffffff" fill-opacity="0.8" stroke="#707070" stroke-width="0.5"/>
<rect x="396.76" y="175.41" width="5.67" height="5.67" fill="#ffffff" fill-opacity="0.8" stroke="#707070" stroke-width="0.5"/>
<path d="M387.00 179.94L391.01 183.95L387.00 187.96L382.99 183.95Z" fill="#ffffff" fill-opacity="0.8" stroke="#707070" stroke-width="0.5"/>
<circle cx="394.20" cy="206.77" r="3.20" fill="#ffffff" fill-opacity="0.8" stroke="#707070" stroke-width="0.5"/>
<rect x="397.96" y="209.63" width="5.67" height="5.67" fill="#858585" fill-opacity="0.85" stroke="#5a5a5a" stroke-width="0.5"/>
<path d="M406.60 214.16L410.61 218.17L406.60 222.18L402.59 218.17Z" fill="#000000" fill-opacity="0.85" stroke="#111" stroke-width="0.6"/>
<rect x="345.50" y="123.50" width="94.00" height="109.50" fill="none" stroke="#adadad" stroke-width="1"/>
<text x="392.60" y="9.6" font-size="8.6" letter-spacing="0.22" fill="#2a2a2a" text-anchor="middle">3 year duration</text>
<line x1="349.11" y1="233.00" x2="349.11" y2="234.60" stroke="#555" stroke-width="0.7"/>
<text x="349.11" y="240.6" font-size="7.6" fill="#555" text-anchor="middle">-1.0</text>
<line x1="370.58" y1="233.00" x2="370.58" y2="234.60" stroke="#555" stroke-width="0.7"/>
<text x="370.58" y="240.6" font-size="7.6" fill="#555" text-anchor="middle">-0.5</text>
<line x1="392.06" y1="233.00" x2="392.06" y2="234.60" stroke="#555" stroke-width="0.7"/>
<text x="392.06" y="240.6" font-size="7.6" fill="#555" text-anchor="middle">0.0</text>
<line x1="413.53" y1="233.00" x2="413.53" y2="234.60" stroke="#555" stroke-width="0.7"/>
<text x="413.53" y="240.6" font-size="7.6" fill="#555" text-anchor="middle">0.5</text>
<line x1="435.01" y1="233.00" x2="435.01" y2="234.60" stroke="#555" stroke-width="0.7"/>
<text x="435.01" y="240.6" font-size="7.6" fill="#555" text-anchor="middle">1.0</text>
<rect x="441.50" y="0.5" width="94.00" height="11" fill="#d9d9d9" stroke="#adadad" stroke-width="1"/>
<line x1="456.57" y1="11.50" x2="456.57" y2="121.50" stroke="#f6f6f6" stroke-width="0.8"/>
<line x1="478.04" y1="11.50" x2="478.04" y2="121.50" stroke="#f6f6f6" stroke-width="0.8"/>
<line x1="499.52" y1="11.50" x2="499.52" y2="121.50" stroke="#f6f6f6" stroke-width="0.8"/>
<line x1="520.99" y1="11.50" x2="520.99" y2="121.50" stroke="#f6f6f6" stroke-width="0.8"/>
<line x1="445.83" y1="11.50" x2="445.83" y2="121.50" stroke="#eeeeee" stroke-width="1"/>
<line x1="467.30" y1="11.50" x2="467.30" y2="121.50" stroke="#eeeeee" stroke-width="1"/>
<line x1="488.78" y1="11.50" x2="488.78" y2="121.50" stroke="#eeeeee" stroke-width="1"/>
<line x1="510.25" y1="11.50" x2="510.25" y2="121.50" stroke="#eeeeee" stroke-width="1"/>
<line x1="531.73" y1="11.50" x2="531.73" y2="121.50" stroke="#eeeeee" stroke-width="1"/>
<line x1="441.50" y1="32.12" x2="535.50" y2="32.12" stroke="#eeeeee" stroke-width="1"/>
<line x1="441.50" y1="66.50" x2="535.50" y2="66.50" stroke="#eeeeee" stroke-width="1"/>
<line x1="441.50" y1="100.88" x2="535.50" y2="100.88" stroke="#eeeeee" stroke-width="1"/>
<line x1="488.78" y1="11.50" x2="488.78" y2="121.50" stroke="#8a8a8a" stroke-width="1" stroke-dasharray="1.5 1.8"/>
<line x1="462.80" y1="26.18" x2="476.00" y2="26.18" stroke="#5a5a5a" stroke-width="0.8"/>
<line x1="474.20" y1="30.07" x2="485.60" y2="30.07" stroke="#5a5a5a" stroke-width="0.8"/>
<line x1="462.20" y1="34.23" x2="479.60" y2="34.23" stroke="#5a5a5a" stroke-width="0.8"/>
<line x1="469.00" y1="38.33" x2="480.00" y2="38.33" stroke="#5a5a5a" stroke-width="0.8"/>
<line x1="488.40" y1="60.55" x2="499.80" y2="60.55" stroke="#5a5a5a" stroke-width="0.8"/>
<line x1="480.60" y1="64.45" x2="487.20" y2="64.45" stroke="#5a5a5a" stroke-width="0.8"/>
<line x1="489.00" y1="68.60" x2="501.60" y2="68.60" stroke="#5a5a5a" stroke-width="0.8"/>
<line x1="485.40" y1="72.70" x2="492.60" y2="72.70" stroke="#5a5a5a" stroke-width="0.8"/>
<line x1="475.80" y1="94.92" x2="489.60" y2="94.92" stroke="#5a5a5a" stroke-width="0.8"/>
<line x1="487.80" y1="98.83" x2="494.40" y2="98.83" stroke="#5a5a5a" stroke-width="0.8"/>
<line x1="477.60" y1="102.97" x2="494.40" y2="102.97" stroke="#5a5a5a" stroke-width="0.8"/>
<line x1="481.80" y1="107.08" x2="492.00" y2="107.08" stroke="#5a5a5a" stroke-width="0.8"/>
<circle cx="469.40" cy="26.18" r="3.20" fill="#000000" fill-opacity="0.85" stroke="#111" stroke-width="0.6"/>
<rect x="477.36" y="27.24" width="5.67" height="5.67" fill="#000000" fill-opacity="0.85" stroke="#111" stroke-width="0.6"/>
<path d="M471.20 30.21L475.21 34.23L471.20 38.24L467.19 34.23Z" fill="#000000" fill-opacity="0.85" stroke="#111" stroke-width="0.6"/>
<path d="M474.60 33.35L478.91 40.81L470.29 40.81Z" fill="#000000" fill-opacity="0.85" stroke="#111" stroke-width="0.6"/>
<circle cx="494.30" cy="60.55" r="3.20" fill="#000000" fill-opacity="0.85" stroke="#111" stroke-width="0.6"/>
<rect x="480.96" y="61.61" width="5.67" height="5.67" fill="#000000" fill-opacity="0.85" stroke="#111" stroke-width="0.6"/>
<path d="M495.10 64.59L499.11 68.60L495.10 72.61L491.09 68.60Z" fill="#858585" fill-opacity="0.85" stroke="#5a5a5a" stroke-width="0.5"/>
<path d="M489.60 67.72L493.91 75.19L485.29 75.19Z" fill="#ffffff" fill-opacity="0.8" stroke="#707070" stroke-width="0.5"/>
<circle cx="483.20" cy="94.92" r="3.20" fill="#858585" fill-opacity="0.85" stroke="#5a5a5a" stroke-width="0.5"/>
<rect x="487.56" y="95.99" width="5.67" height="5.67" fill="#ffffff" fill-opacity="0.8" stroke="#707070" stroke-width="0.5"/>
<path d="M487.00 98.96L491.01 102.97L487.00 106.99L482.99 102.97Z" fill="#ffffff" fill-opacity="0.8" stroke="#707070" stroke-width="0.5"/>
<path d="M486.00 102.10L490.31 109.56L481.69 109.56Z" fill="#ffffff" fill-opacity="0.8" stroke="#707070" stroke-width="0.5"/>
<rect x="441.50" y="11.50" width="94.00" height="110.00" fill="none" stroke="#adadad" stroke-width="1"/>
<line x1="456.57" y1="123.50" x2="456.57" y2="233.00" stroke="#f6f6f6" stroke-width="0.8"/>
<line x1="478.04" y1="123.50" x2="478.04" y2="233.00" stroke="#f6f6f6" stroke-width="0.8"/>
<line x1="499.52" y1="123.50" x2="499.52" y2="233.00" stroke="#f6f6f6" stroke-width="0.8"/>
<line x1="520.99" y1="123.50" x2="520.99" y2="233.00" stroke="#f6f6f6" stroke-width="0.8"/>
<line x1="445.83" y1="123.50" x2="445.83" y2="233.00" stroke="#eeeeee" stroke-width="1"/>
<line x1="467.30" y1="123.50" x2="467.30" y2="233.00" stroke="#eeeeee" stroke-width="1"/>
<line x1="488.78" y1="123.50" x2="488.78" y2="233.00" stroke="#eeeeee" stroke-width="1"/>
<line x1="510.25" y1="123.50" x2="510.25" y2="233.00" stroke="#eeeeee" stroke-width="1"/>
<line x1="531.73" y1="123.50" x2="531.73" y2="233.00" stroke="#eeeeee" stroke-width="1"/>
<line x1="441.50" y1="144.03" x2="535.50" y2="144.03" stroke="#eeeeee" stroke-width="1"/>
<line x1="441.50" y1="178.25" x2="535.50" y2="178.25" stroke="#eeeeee" stroke-width="1"/>
<line x1="441.50" y1="212.47" x2="535.50" y2="212.47" stroke="#eeeeee" stroke-width="1"/>
<line x1="488.78" y1="123.50" x2="488.78" y2="233.00" stroke="#8a8a8a" stroke-width="1" stroke-dasharray="1.5 1.8"/>
<line x1="483.40" y1="138.33" x2="493.20" y2="138.33" stroke="#5a5a5a" stroke-width="0.8"/>
<line x1="480.00" y1="144.03" x2="493.80" y2="144.03" stroke="#5a5a5a" stroke-width="0.8"/>
<line x1="465.00" y1="149.73" x2="507.00" y2="149.73" stroke="#5a5a5a" stroke-width="0.8"/>
<line x1="483.60" y1="172.55" x2="493.40" y2="172.55" stroke="#5a5a5a" stroke-width="0.8"/>
<line x1="491.40" y1="178.25" x2="511.80" y2="178.25" stroke="#5a5a5a" stroke-width="0.8"/>
<line x1="471.40" y1="183.95" x2="497.40" y2="183.95" stroke="#5a5a5a" stroke-width="0.8"/>
<line x1="486.60" y1="206.77" x2="497.40" y2="206.77" stroke="#5a5a5a" stroke-width="0.8"/>
<line x1="488.40" y1="212.47" x2="507.00" y2="212.47" stroke="#5a5a5a" stroke-width="0.8"/>
<line x1="485.40" y1="218.17" x2="514.20" y2="218.17" stroke="#5a5a5a" stroke-width="0.8"/>
<circle cx="487.80" cy="138.33" r="3.20" fill="#ffffff" fill-opacity="0.8" stroke="#707070" stroke-width="0.5"/>
<rect x="483.76" y="141.20" width="5.67" height="5.67" fill="#ffffff" fill-opacity="0.8" stroke="#707070" stroke-width="0.5"/>
<path d="M485.40 145.72L489.41 149.73L485.40 153.74L481.39 149.73Z" fill="#ffffff" fill-opacity="0.8" stroke="#707070" stroke-width="0.5"/>
<circle cx="488.20" cy="172.55" r="3.20" fill="#ffffff" fill-opacity="0.8" stroke="#707070" stroke-width="0.5"/>
<rect x="498.76" y="175.41" width="5.67" height="5.67" fill="#000000" fill-opacity="0.85" stroke="#111" stroke-width="0.6"/>
<path d="M484.60 179.94L488.61 183.95L484.60 187.96L480.59 183.95Z" fill="#ffffff" fill-opacity="0.8" stroke="#707070" stroke-width="0.5"/>
<circle cx="492.00" cy="206.77" r="3.20" fill="#ffffff" fill-opacity="0.8" stroke="#707070" stroke-width="0.5"/>
<rect x="495.16" y="209.63" width="5.67" height="5.67" fill="#858585" fill-opacity="0.85" stroke="#5a5a5a" stroke-width="0.5"/>
<path d="M499.80 214.16L503.81 218.17L499.80 222.18L495.79 218.17Z" fill="#ffffff" fill-opacity="0.8" stroke="#707070" stroke-width="0.5"/>
<rect x="441.50" y="123.50" width="94.00" height="109.50" fill="none" stroke="#adadad" stroke-width="1"/>
<text x="488.60" y="9.6" font-size="8.6" letter-spacing="0.22" fill="#2a2a2a" text-anchor="middle">4 year duration</text>
<line x1="445.83" y1="233.00" x2="445.83" y2="234.60" stroke="#555" stroke-width="0.7"/>
<text x="445.83" y="240.6" font-size="7.6" fill="#555" text-anchor="middle">-1.0</text>
<line x1="467.30" y1="233.00" x2="467.30" y2="234.60" stroke="#555" stroke-width="0.7"/>
<text x="467.30" y="240.6" font-size="7.6" fill="#555" text-anchor="middle">-0.5</text>
<line x1="488.78" y1="233.00" x2="488.78" y2="234.60" stroke="#555" stroke-width="0.7"/>
<text x="488.78" y="240.6" font-size="7.6" fill="#555" text-anchor="middle">0.0</text>
<line x1="510.25" y1="233.00" x2="510.25" y2="234.60" stroke="#555" stroke-width="0.7"/>
<text x="510.25" y="240.6" font-size="7.6" fill="#555" text-anchor="middle">0.5</text>
<line x1="531.73" y1="233.00" x2="531.73" y2="234.60" stroke="#555" stroke-width="0.7"/>
<text x="531.73" y="240.6" font-size="7.6" fill="#555" text-anchor="middle">1.0</text>
<rect x="538.50" y="0.5" width="94.00" height="11" fill="#d9d9d9" stroke="#adadad" stroke-width="1"/>
<line x1="553.29" y1="11.50" x2="553.29" y2="121.50" stroke="#f6f6f6" stroke-width="0.8"/>
<line x1="574.76" y1="11.50" x2="574.76" y2="121.50" stroke="#f6f6f6" stroke-width="0.8"/>
<line x1="596.24" y1="11.50" x2="596.24" y2="121.50" stroke="#f6f6f6" stroke-width="0.8"/>
<line x1="617.71" y1="11.50" x2="617.71" y2="121.50" stroke="#f6f6f6" stroke-width="0.8"/>
<line x1="542.55" y1="11.50" x2="542.55" y2="121.50" stroke="#eeeeee" stroke-width="1"/>
<line x1="564.02" y1="11.50" x2="564.02" y2="121.50" stroke="#eeeeee" stroke-width="1"/>
<line x1="585.50" y1="11.50" x2="585.50" y2="121.50" stroke="#eeeeee" stroke-width="1"/>
<line x1="606.98" y1="11.50" x2="606.98" y2="121.50" stroke="#eeeeee" stroke-width="1"/>
<line x1="628.45" y1="11.50" x2="628.45" y2="121.50" stroke="#eeeeee" stroke-width="1"/>
<line x1="538.50" y1="32.12" x2="632.50" y2="32.12" stroke="#eeeeee" stroke-width="1"/>
<line x1="538.50" y1="66.50" x2="632.50" y2="66.50" stroke="#eeeeee" stroke-width="1"/>
<line x1="538.50" y1="100.88" x2="632.50" y2="100.88" stroke="#eeeeee" stroke-width="1"/>
<line x1="585.50" y1="11.50" x2="585.50" y2="121.50" stroke="#8a8a8a" stroke-width="1" stroke-dasharray="1.5 1.8"/>
<line x1="559.20" y1="26.18" x2="572.40" y2="26.18" stroke="#5a5a5a" stroke-width="0.8"/>
<line x1="570.00" y1="30.07" x2="582.00" y2="30.07" stroke="#5a5a5a" stroke-width="0.8"/>
<line x1="559.20" y1="34.23" x2="576.00" y2="34.23" stroke="#5a5a5a" stroke-width="0.8"/>
<line x1="566.00" y1="38.33" x2="577.00" y2="38.33" stroke="#5a5a5a" stroke-width="0.8"/>
<line x1="585.40" y1="60.55" x2="596.60" y2="60.55" stroke="#5a5a5a" stroke-width="0.8"/>
<line x1="576.40" y1="64.45" x2="585.00" y2="64.45" stroke="#5a5a5a" stroke-width="0.8"/>
<line x1="586.60" y1="68.60" x2="599.60" y2="68.60" stroke="#5a5a5a" stroke-width="0.8"/>
<line x1="582.40" y1="72.70" x2="591.40" y2="72.70" stroke="#5a5a5a" stroke-width="0.8"/>
<line x1="572.20" y1="94.92" x2="586.00" y2="94.92" stroke="#5a5a5a" stroke-width="0.8"/>
<line x1="584.20" y1="98.83" x2="591.40" y2="98.83" stroke="#5a5a5a" stroke-width="0.8"/>
<line x1="573.40" y1="102.97" x2="591.40" y2="102.97" stroke="#5a5a5a" stroke-width="0.8"/>
<line x1="578.20" y1="107.08" x2="588.40" y2="107.08" stroke="#5a5a5a" stroke-width="0.8"/>
<circle cx="565.80" cy="26.18" r="3.20" fill="#000000" fill-opacity="0.85" stroke="#111" stroke-width="0.6"/>
<rect x="573.16" y="27.24" width="5.67" height="5.67" fill="#000000" fill-opacity="0.85" stroke="#111" stroke-width="0.6"/>
<path d="M568.20 30.21L572.21 34.23L568.20 38.24L564.19 34.23Z" fill="#000000" fill-opacity="0.85" stroke="#111" stroke-width="0.6"/>
<path d="M571.60 33.35L575.91 40.81L567.29 40.81Z" fill="#000000" fill-opacity="0.85" stroke="#111" stroke-width="0.6"/>
<circle cx="591.30" cy="60.55" r="3.20" fill="#858585" fill-opacity="0.85" stroke="#5a5a5a" stroke-width="0.5"/>
<rect x="578.16" y="61.61" width="5.67" height="5.67" fill="#000000" fill-opacity="0.85" stroke="#111" stroke-width="0.6"/>
<path d="M592.60 64.59L596.61 68.60L592.60 72.61L588.59 68.60Z" fill="#858585" fill-opacity="0.85" stroke="#5a5a5a" stroke-width="0.5"/>
<path d="M586.60 67.72L590.91 75.19L582.29 75.19Z" fill="#ffffff" fill-opacity="0.8" stroke="#707070" stroke-width="0.5"/>
<circle cx="579.40" cy="94.92" r="3.20" fill="#858585" fill-opacity="0.85" stroke="#5a5a5a" stroke-width="0.5"/>
<rect x="584.36" y="95.99" width="5.67" height="5.67" fill="#ffffff" fill-opacity="0.8" stroke="#707070" stroke-width="0.5"/>
<path d="M582.40 98.96L586.41 102.97L582.40 106.99L578.39 102.97Z" fill="#ffffff" fill-opacity="0.8" stroke="#707070" stroke-width="0.5"/>
<path d="M583.00 102.10L587.31 109.56L578.69 109.56Z" fill="#ffffff" fill-opacity="0.8" stroke="#707070" stroke-width="0.5"/>
<rect x="538.50" y="11.50" width="94.00" height="110.00" fill="none" stroke="#adadad" stroke-width="1"/>
<line x1="553.29" y1="123.50" x2="553.29" y2="233.00" stroke="#f6f6f6" stroke-width="0.8"/>
<line x1="574.76" y1="123.50" x2="574.76" y2="233.00" stroke="#f6f6f6" stroke-width="0.8"/>
<line x1="596.24" y1="123.50" x2="596.24" y2="233.00" stroke="#f6f6f6" stroke-width="0.8"/>
<line x1="617.71" y1="123.50" x2="617.71" y2="233.00" stroke="#f6f6f6" stroke-width="0.8"/>
<line x1="542.55" y1="123.50" x2="542.55" y2="233.00" stroke="#eeeeee" stroke-width="1"/>
<line x1="564.02" y1="123.50" x2="564.02" y2="233.00" stroke="#eeeeee" stroke-width="1"/>
<line x1="585.50" y1="123.50" x2="585.50" y2="233.00" stroke="#eeeeee" stroke-width="1"/>
<line x1="606.98" y1="123.50" x2="606.98" y2="233.00" stroke="#eeeeee" stroke-width="1"/>
<line x1="628.45" y1="123.50" x2="628.45" y2="233.00" stroke="#eeeeee" stroke-width="1"/>
<line x1="538.50" y1="144.03" x2="632.50" y2="144.03" stroke="#eeeeee" stroke-width="1"/>
<line x1="538.50" y1="178.25" x2="632.50" y2="178.25" stroke="#eeeeee" stroke-width="1"/>
<line x1="538.50" y1="212.47" x2="632.50" y2="212.47" stroke="#eeeeee" stroke-width="1"/>
<line x1="585.50" y1="123.50" x2="585.50" y2="233.00" stroke="#8a8a8a" stroke-width="1" stroke-dasharray="1.5 1.8"/>
<line x1="579.20" y1="138.33" x2="591.20" y2="138.33" stroke="#5a5a5a" stroke-width="0.8"/>
<line x1="575.80" y1="144.03" x2="592.60" y2="144.03" stroke="#5a5a5a" stroke-width="0.8"/>
<line x1="558.40" y1="149.73" x2="603.40" y2="149.73" stroke="#5a5a5a" stroke-width="0.8"/>
<line x1="580.60" y1="172.55" x2="590.80" y2="172.55" stroke="#5a5a5a" stroke-width="0.8"/>
<line x1="585.40" y1="178.25" x2="608.00" y2="178.25" stroke="#5a5a5a" stroke-width="0.8"/>
<line x1="568.00" y1="183.95" x2="598.00" y2="183.95" stroke="#5a5a5a" stroke-width="0.8"/>
<line x1="581.20" y1="206.77" x2="595.60" y2="206.77" stroke="#5a5a5a" stroke-width="0.8"/>
<line x1="584.80" y1="212.47" x2="604.40" y2="212.47" stroke="#5a5a5a" stroke-width="0.8"/>
<line x1="583.00" y1="218.17" x2="614.60" y2="218.17" stroke="#5a5a5a" stroke-width="0.8"/>
<circle cx="585.20" cy="138.33" r="3.20" fill="#ffffff" fill-opacity="0.8" stroke="#707070" stroke-width="0.5"/>
<rect x="581.16" y="141.20" width="5.67" height="5.67" fill="#ffffff" fill-opacity="0.8" stroke="#707070" stroke-width="0.5"/>
<path d="M581.20 145.72L585.21 149.73L581.20 153.74L577.19 149.73Z" fill="#ffffff" fill-opacity="0.8" stroke="#707070" stroke-width="0.5"/>
<circle cx="585.40" cy="172.55" r="3.20" fill="#ffffff" fill-opacity="0.8" stroke="#707070" stroke-width="0.5"/>
<rect x="593.36" y="175.41" width="5.67" height="5.67" fill="#858585" fill-opacity="0.85" stroke="#5a5a5a" stroke-width="0.5"/>
<path d="M582.40 179.94L586.41 183.95L582.40 187.96L578.39 183.95Z" fill="#ffffff" fill-opacity="0.8" stroke="#707070" stroke-width="0.5"/>
<circle cx="588.40" cy="206.77" r="3.20" fill="#ffffff" fill-opacity="0.8" stroke="#707070" stroke-width="0.5"/>
<rect x="591.56" y="209.63" width="5.67" height="5.67" fill="#858585" fill-opacity="0.85" stroke="#5a5a5a" stroke-width="0.5"/>
<path d="M598.50 214.16L602.51 218.17L598.50 222.18L594.49 218.17Z" fill="#858585" fill-opacity="0.85" stroke="#5a5a5a" stroke-width="0.5"/>
<rect x="538.50" y="123.50" width="94.00" height="109.50" fill="none" stroke="#adadad" stroke-width="1"/>
<text x="585.60" y="9.6" font-size="8.6" letter-spacing="0.22" fill="#2a2a2a" text-anchor="middle">5 year duration</text>
<line x1="542.55" y1="233.00" x2="542.55" y2="234.60" stroke="#555" stroke-width="0.7"/>
<text x="542.55" y="240.6" font-size="7.6" fill="#555" text-anchor="middle">-1.0</text>
<line x1="564.02" y1="233.00" x2="564.02" y2="234.60" stroke="#555" stroke-width="0.7"/>
<text x="564.02" y="240.6" font-size="7.6" fill="#555" text-anchor="middle">-0.5</text>
<line x1="585.50" y1="233.00" x2="585.50" y2="234.60" stroke="#555" stroke-width="0.7"/>
<text x="585.50" y="240.6" font-size="7.6" fill="#555" text-anchor="middle">0.0</text>
<line x1="606.98" y1="233.00" x2="606.98" y2="234.60" stroke="#555" stroke-width="0.7"/>
<text x="606.98" y="240.6" font-size="7.6" fill="#555" text-anchor="middle">0.5</text>
<line x1="628.45" y1="233.00" x2="628.45" y2="234.60" stroke="#555" stroke-width="0.7"/>
<text x="628.45" y="240.6" font-size="7.6" fill="#555" text-anchor="middle">1.0</text>
<rect x="632.50" y="12.50" width="12.00" height="109.00" fill="#d9d9d9" stroke="#adadad" stroke-width="1"/>
<text x="0" y="0" font-size="9" fill="#1a1a1a" text-anchor="middle" transform="translate(635.60 66.50) rotate(90)">Mediterranean</text>
<rect x="632.50" y="123.50" width="12.00" height="109.50" fill="#d9d9d9" stroke="#adadad" stroke-width="1"/>
<text x="0" y="0" font-size="9" fill="#1a1a1a" text-anchor="middle" transform="translate(635.60 178.25) rotate(90)">Monsoonal</text>
<line x1="52.90" y1="32.12" x2="54.50" y2="32.12" stroke="#555" stroke-width="0.7"/>
<text x="53.10" y="34.92" font-size="7.6" fill="#555" text-anchor="end">Ppt</text>
<line x1="52.90" y1="66.50" x2="54.50" y2="66.50" stroke="#555" stroke-width="0.7"/>
<text x="53.10" y="69.30" font-size="7.6" fill="#555" text-anchor="end">% burn</text>
<line x1="52.90" y1="100.88" x2="54.50" y2="100.88" stroke="#555" stroke-width="0.7"/>
<text x="53.10" y="103.67" font-size="7.6" fill="#555" text-anchor="end">Ppt x % burn</text>
<line x1="52.90" y1="144.03" x2="54.50" y2="144.03" stroke="#555" stroke-width="0.7"/>
<text x="53.10" y="146.83" font-size="7.6" fill="#555" text-anchor="end">Ppt</text>
<line x1="52.90" y1="178.25" x2="54.50" y2="178.25" stroke="#555" stroke-width="0.7"/>
<text x="53.10" y="181.05" font-size="7.6" fill="#555" text-anchor="end">% burn</text>
<line x1="52.90" y1="212.47" x2="54.50" y2="212.47" stroke="#555" stroke-width="0.7"/>
<text x="53.10" y="215.27" font-size="7.6" fill="#555" text-anchor="end">Ppt x % burn</text>
<text x="344.4" y="249" font-size="9" fill="#000" text-anchor="middle">Effect Size</text>
<text x="0" y="0" font-size="9" fill="#000" text-anchor="middle" transform="translate(6.5 122.7) rotate(-90)">Covariates</text>
<text x="650.7" y="93.9" font-size="7.8" fill="#000">Stream</text>
<circle cx="654.20" cy="102.60" r="3.20" fill="none" stroke="#555" stroke-width="0.6"/>
<text x="662.9" y="105.60" font-size="7.6" fill="#000">AB00</text>
<rect x="651.36" y="108.16" width="5.67" height="5.67" fill="none" stroke="#555" stroke-width="0.6"/>
<text x="662.9" y="114.00" font-size="7.6" fill="#000">GV01</text>
<path d="M654.20 115.39L658.21 119.40L654.20 123.41L650.19 119.40Z" fill="none" stroke="#555" stroke-width="0.6"/>
<text x="662.9" y="122.40" font-size="7.6" fill="#000">HO00</text>
<path d="M654.20 122.82L658.51 130.29L649.89 130.29Z" fill="none" stroke="#555" stroke-width="0.6"/>
<text x="662.9" y="130.80" font-size="7.6" fill="#000">RS02</text>
<circle cx="654.20" cy="136.20" r="3.20" fill="none" stroke="#555" stroke-width="0.6"/>
<text x="662.9" y="139.20" font-size="7.6" fill="#000">EFJ</text>
<rect x="651.36" y="141.76" width="5.67" height="5.67" fill="none" stroke="#555" stroke-width="0.6"/>
<text x="662.9" y="147.60" font-size="7.6" fill="#000">RED</text>
<path d="M654.20 148.99L658.21 153.00L654.20 157.01L650.19 153.00Z" fill="none" stroke="#555" stroke-width="0.6"/>
<text x="662.9" y="156.00" font-size="7.6" fill="#000">RSAW</text>
</g>
</svg></body></html>
